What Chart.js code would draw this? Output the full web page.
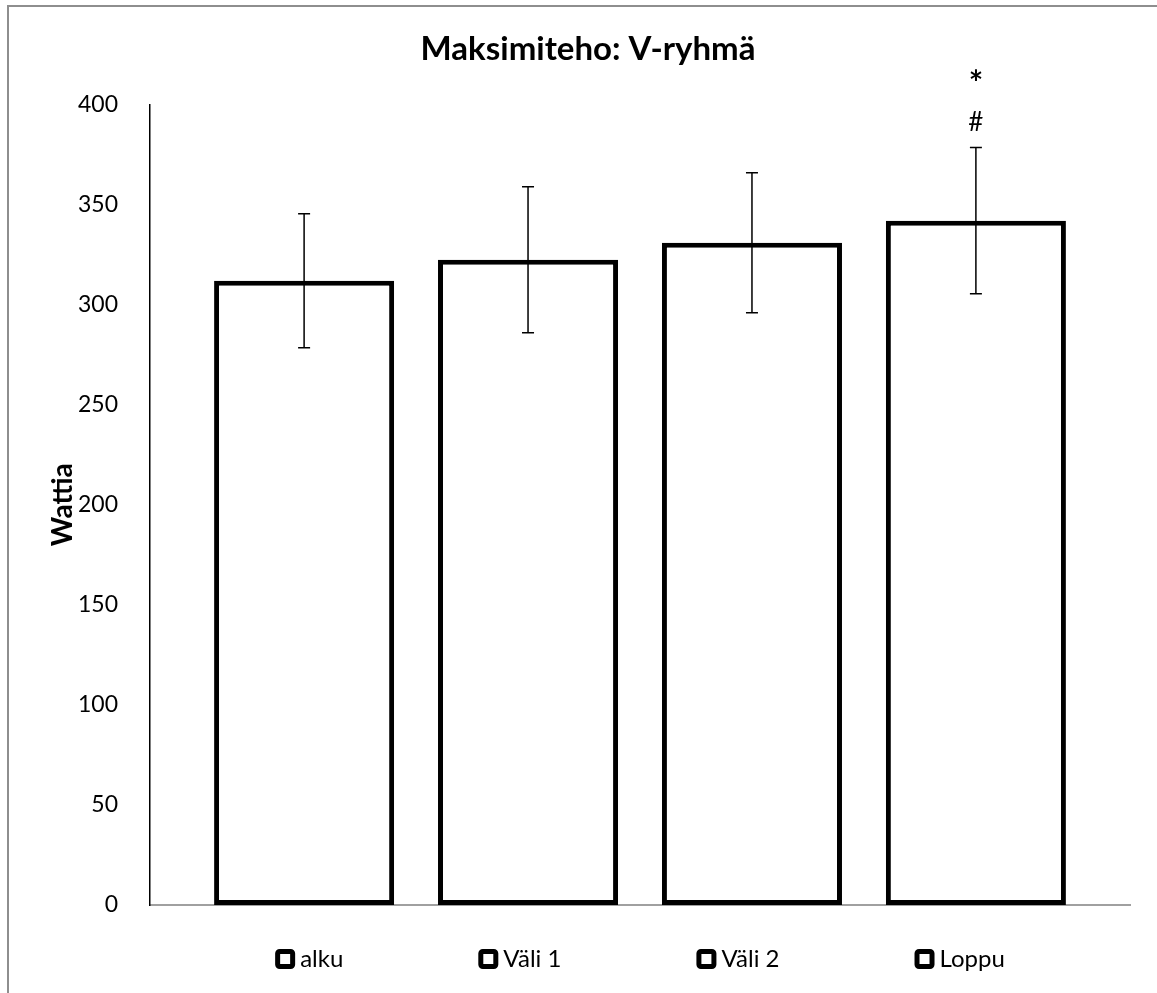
<!DOCTYPE html>
<html>
<head>
<meta charset="utf-8">
<script src="https://cdn.jsdelivr.net/npm/chart.js@4.4.1/dist/chart.umd.min.js"></script>
<style>
  html, body { margin: 0; padding: 0; background: #fff; }
  #wrap { position: relative; width: 1157px; height: 993px; overflow: hidden; }
  #frame { position: absolute; left: 7px; top: 5px; width: 1200px; height: 1100px; border: 2px solid #8e8e8e; }
  #chart { position: absolute; left: 0; top: 0; }
</style>
</head>
<body>
<div id="wrap">
  <div id="frame"></div>
  <canvas id="chart" width="1157" height="993"></canvas>
</div>
<script>
// Data
const groups = ["alku", "Väli 1", "Väli 2", "Loppu"];
const means = [312, 322.5, 331, 342];
const sds = [33.5, 36.5, 35, 36.5];
const marks = [[], [], [], ["#", "*"]];
const yTicks = [0, 50, 100, 150, 200, 250, 300, 350, 400];

const FONT = "Lato, 'Open Sans', sans-serif";

// Error bars and significance marks
const errorBars = {
    id: "errorBars",
    afterDatasetsDraw(chart) {
        const ctx = chart.ctx;
        const y = chart.scales.y;
        ctx.save();
        ctx.strokeStyle = "#000";
        ctx.lineWidth = 1.5;
        chart.data.datasets.forEach((ds, i) => {
            const bar = chart.getDatasetMeta(i).data[0];
            const hi = y.getPixelForValue(means[i] + sds[i]);
            const lo = y.getPixelForValue(means[i] - sds[i]);
            const x = bar.x;
            ctx.beginPath();
            ctx.moveTo(x, hi); ctx.lineTo(x, lo);
            ctx.moveTo(x - 6, hi); ctx.lineTo(x + 6, hi);
            ctx.moveTo(x - 6, lo); ctx.lineTo(x + 6, lo);
            ctx.stroke();

            ctx.fillStyle = "#000";
            ctx.textAlign = "center";
            ctx.textBaseline = "middle";
            marks[i].forEach((m, k) => {
                // asterisk glyph is tiny in Lato, so draw it bolder and larger
                ctx.font = (m === "*" ? "bold 34px " : "26px ") + FONT;
                ctx.fillText(m, x, hi - 25 - k * 39);
            });
        });
        ctx.restore();
    }
};

// Excel-style legend row under the plot
const bottomLegend = {
    id: "bottomLegend",
    afterDraw(chart) {
        const ctx = chart.ctx;
        const area = chart.chartArea;
        const box = 20, gap = 5, spacing = 135;
        ctx.save();
        ctx.font = "24px " + FONT;
        const widths = groups.map(g => ctx.measureText(g).width);
        const total = widths.reduce((a, w) => a + box + gap + w, 0) + spacing * (groups.length - 1);
        let x = (area.left + area.right) / 2 - total / 2;
        const y = area.bottom + 54;
        groups.forEach((g, i) => {
            ctx.strokeStyle = "#000";
            ctx.fillStyle = "#fff";
            ctx.lineWidth = 5;
            ctx.beginPath();
            ctx.roundRect(x + 2.5, y - box / 2 + 2.5, box - 5, box - 5, 2);
            ctx.fill();
            ctx.stroke();
            ctx.fillStyle = "#000";
            ctx.textAlign = "left";
            ctx.textBaseline = "middle";
            ctx.fillText(g, x + box + gap, y);
            x += box + gap + widths[i] + spacing;
        });
        ctx.restore();
    }
};

new Chart(document.getElementById("chart"), {
    type: "bar",
    data: {
        labels: [""],
        datasets: groups.map((g, i) => ({
            label: g,
            data: [means[i]],
            backgroundColor: "#fff",
            borderColor: "#000",
            borderWidth: 5,
            borderSkipped: false,
            categoryPercentage: 0.914,
            barPercentage: 0.804
        }))
    },
    options: {
        responsive: false,
        animation: false,
        devicePixelRatio: 1,
        layout: { padding: { top: 30, left: 46, right: 27, bottom: 88 } },
        plugins: {
            legend: { display: false },
            tooltip: { enabled: false },
            title: {
                display: true,
                text: "Maksimiteho: V-ryhmä",
                color: "#000",
                font: { family: FONT, size: 33, weight: "bold" },
                padding: { top: 0, bottom: 35 }
            }
        },
        scales: {
            x: {
                grid: { display: false },
                ticks: { display: false },
                border: { display: true, color: "#a0a0a0", width: 2 },
                afterFit: s => { s.height = 0; }
            },
            y: {
                min: 0,
                max: 400,
                afterBuildTicks: s => { s.ticks = yTicks.map(v => ({ value: v })); },
                grid: { display: false },
                border: { display: true, color: "#000", width: 1.5 },
                ticks: {
                    color: "#000",
                    padding: 24,
                    font: { family: FONT, size: 23 }
                },
                title: {
                    display: true,
                    text: "Wattia",
                    color: "#000",
                    font: { family: FONT, size: 28, weight: "bold" },
                    padding: { top: 0, bottom: 0 }
                },
                afterFit: s => { s.width = 104; }
            }
        }
    },
    plugins: [errorBars, bottomLegend]
});
</script>
</body>
</html>
